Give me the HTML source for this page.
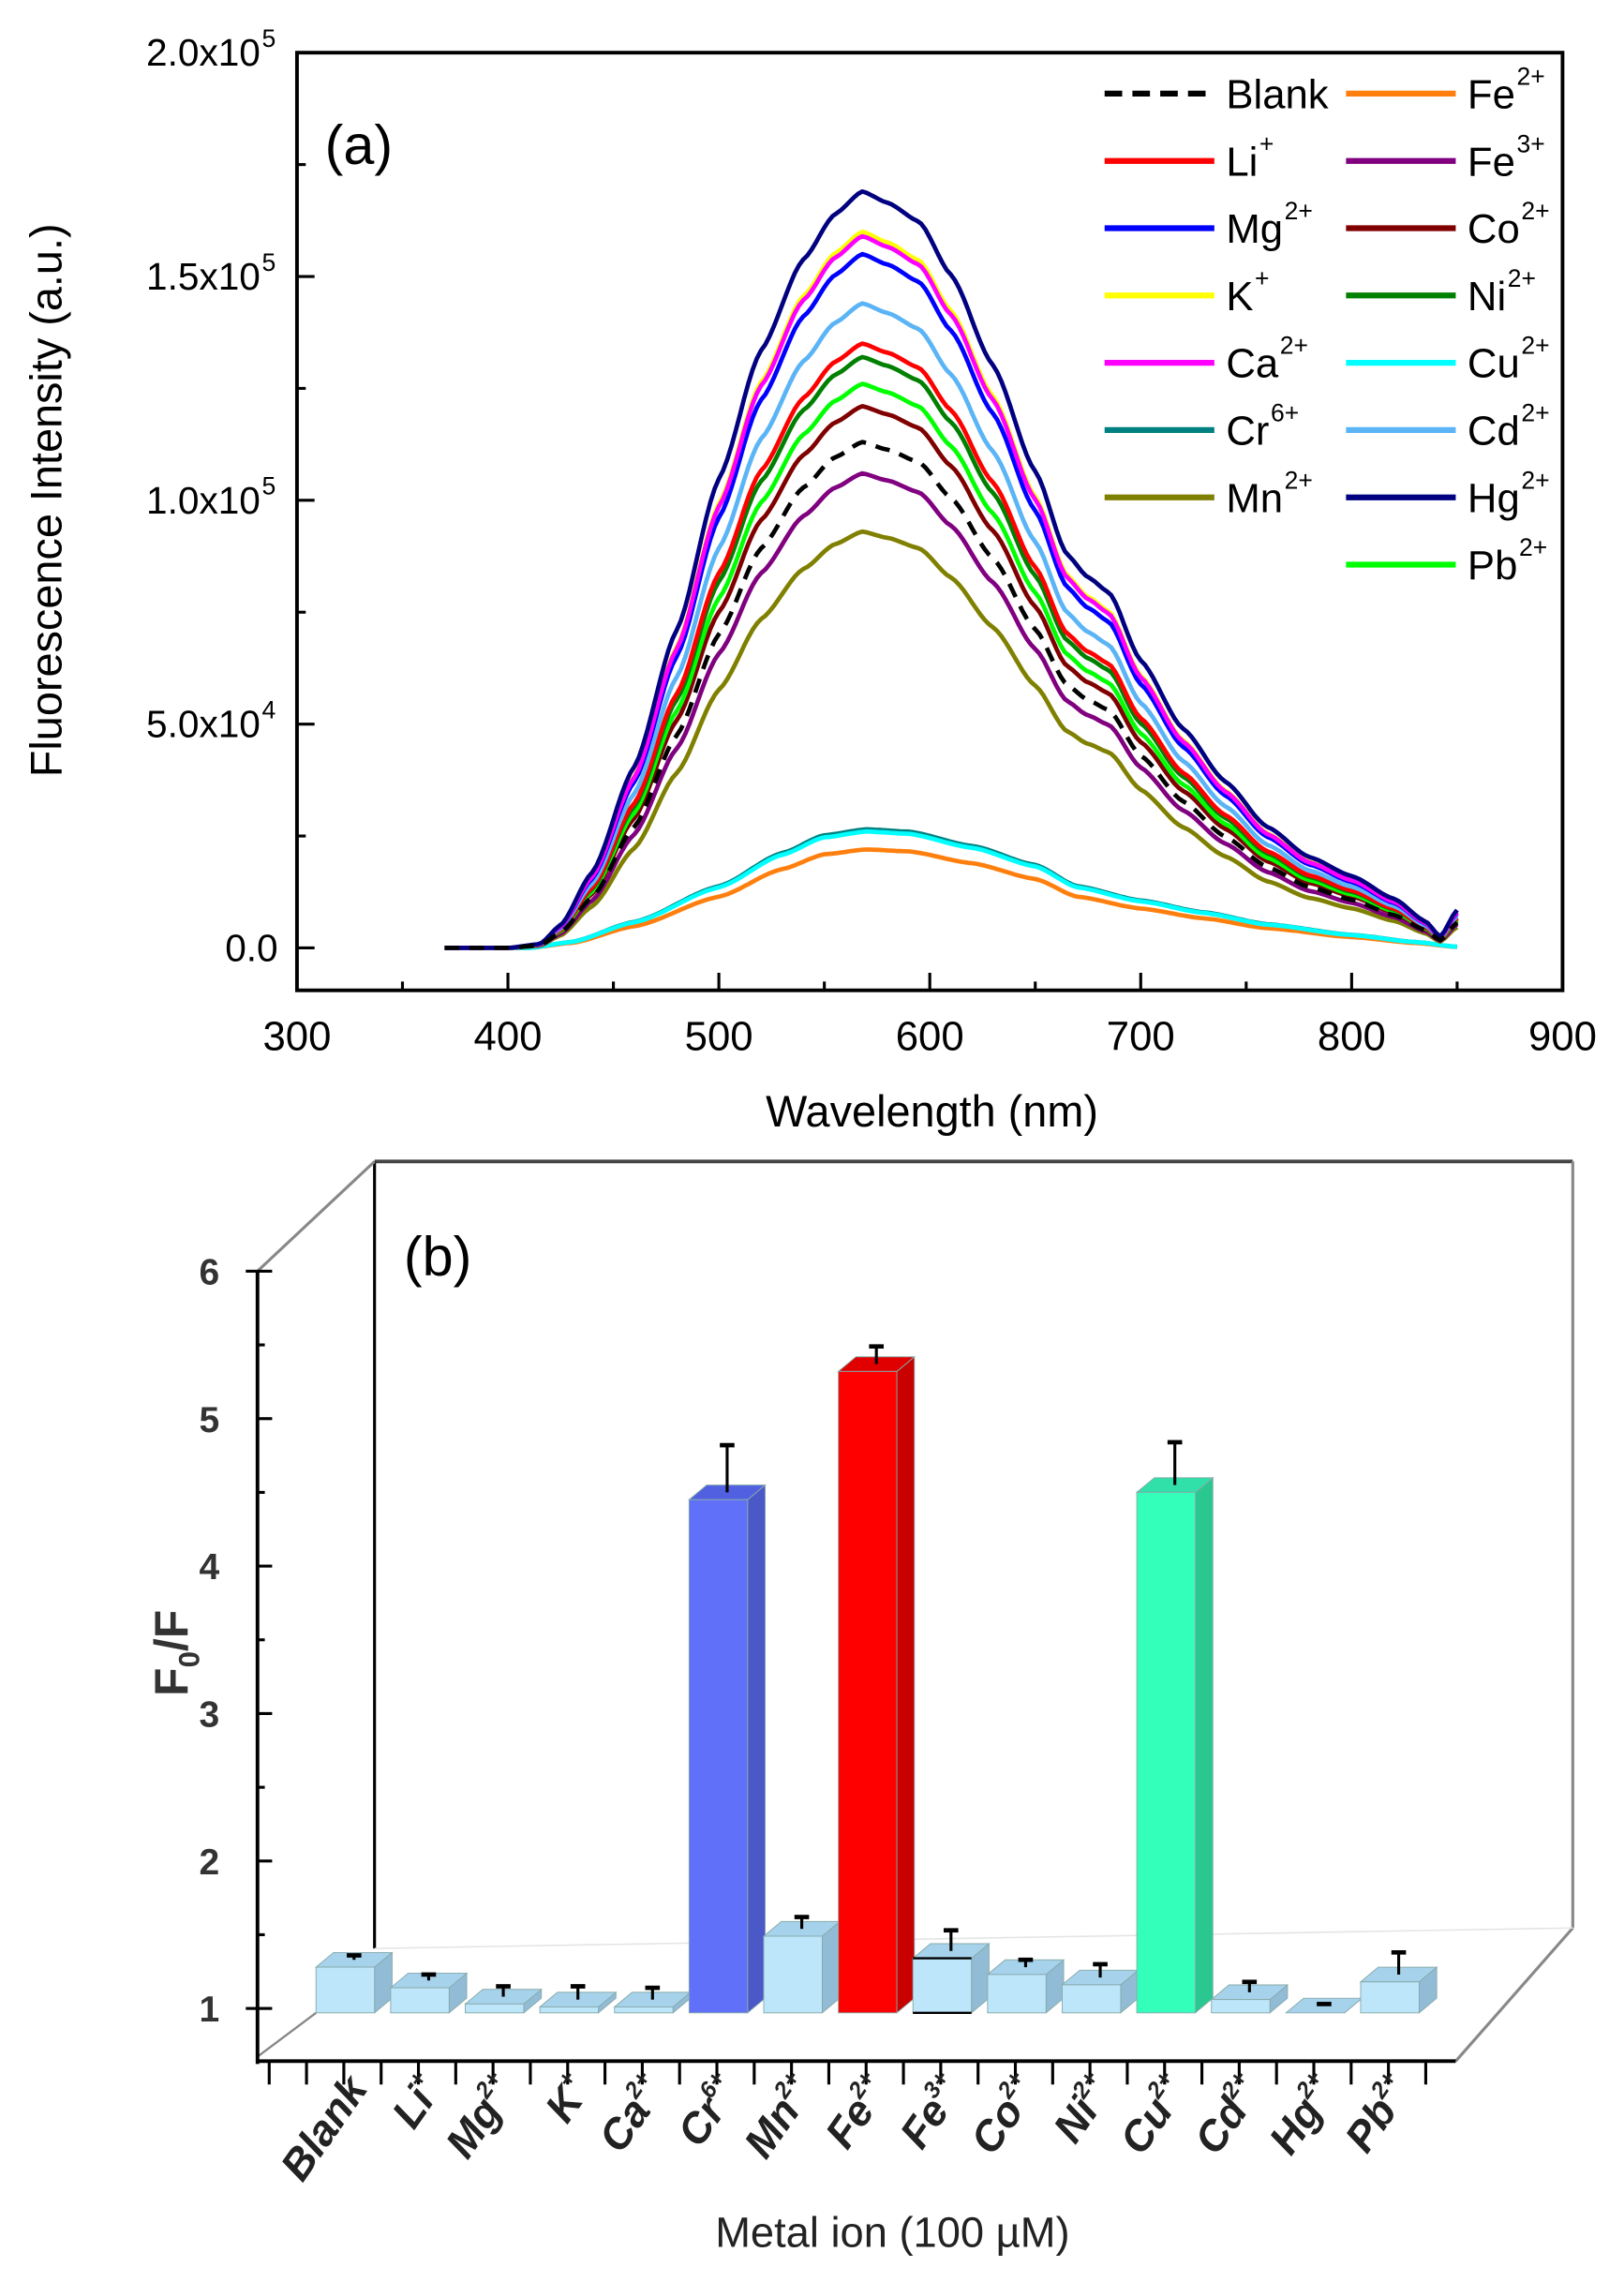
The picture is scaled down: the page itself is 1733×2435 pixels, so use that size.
<!DOCTYPE html>
<html><head><meta charset="utf-8">
<style>
html,body{margin:0;padding:0;background:#fff;}
svg{display:block;}
text{font-family:"Liberation Sans",Arial,sans-serif;}
</style></head>
<body>
<svg id="s" width="1733" height="2435" viewBox="0 0 1110 1560" preserveAspectRatio="none" xmlns="http://www.w3.org/2000/svg">
<rect width="1110" height="1560" fill="#fff"/>
<g id="a"></g>
<g id="b"></g>
</svg>
<script>
const NS="http://www.w3.org/2000/svg";
function el(p,t,at,txt){const e=document.createElementNS(NS,t);for(const k in at)e.setAttribute(k,at[k]);if(txt!==undefined)e.textContent=txt;p.appendChild(e);return e;}
const A=document.getElementById('a'),B=document.getElementById('b');
// ---- Panel a
const X=nm=>203+(nm-300)*1.4417, Y=v=>648-v/5e4*153;
const hi=[[370,0],[400,0],[415,0.005],[425,0.03],[440,0.1],[460,0.24],[480,0.42],[500,0.62],[520,0.79],[540,0.91],[555,0.97],[568,1],[580,0.985],[595,0.96],[610,0.89],[630,0.77],[650,0.63],[665,0.52],[675,0.49],[685,0.47],[700,0.38],[720,0.29],[740,0.22],[760,0.16],[780,0.12],[800,0.095],[820,0.065],[835,0.035],[842,0.015],[850,0.05]];
const lo=[[370,0],[410,0],[430,0.05],[460,0.22],[500,0.52],[530,0.8],[550,0.95],[570,1],[590,0.98],[620,0.86],[650,0.7],[670,0.52],[700,0.4],[730,0.3],[760,0.2],[800,0.11],[830,0.05],[850,0.01]];
function interp(sh,nm){for(let i=1;i<sh.length;i++){if(nm<=sh[i][0]){const a=sh[i-1],b=sh[i];const t=(nm-a[0])/(b[0]-a[0]);const s=t*t*(3-2*t);return a[1]+(b[1]-a[1])*(0.5*t+0.5*s);}}return sh[sh.length-1][1];}
function curve(sh,peak,col,dash){let d="";for(let nm=370;nm<=850;nm+=2){const v=interp(sh,nm)*peak;d+=(nm==370?"M":"L")+X(nm).toFixed(1)+","+Y(v).toFixed(1);}
const at={d:d,fill:"none",stroke:col,"stroke-width":3,"stroke-linejoin":"round"};if(dash)at["stroke-dasharray"]="10,7";el(A,"path",at);}
curve(lo,2.2e4,"#ff7f0e");curve(lo,2.65e4,"#008080");curve(lo,2.6e4,"#00ffff");
[[0.93e5,"#808000"],[1.06e5,"#800080"],[1.21e5,"#800000"],[1.26e5,"#00ff00"],[1.32e5,"#008000"],[1.35e5,"#ff0000"],[1.44e5,"#5ab4f5"],[1.55e5,"#0000ff"],[1.60e5,"#ffff00"],[1.59e5,"#ff00ff"],[1.69e5,"#000080"]].forEach(c=>curve(hi,c[0],c[1]));
curve(hi,1.13e5,"#000",true);
el(A,"rect",{x:203,y:36,width:865,height:641,fill:"none",stroke:"#000","stroke-width":2.5});
for(let nm=300;nm<=900;nm+=50){const x=X(nm);el(A,"line",{x1:x,x2:x,y1:677,y2:nm%100?671:665,stroke:"#000","stroke-width":2});
if(nm%100==0)el(A,"text",{x:x,y:718,"text-anchor":"middle","font-size":28},nm);}
for(let v=0;v<=2e5;v+=2.5e4){const y=Y(v);el(A,"line",{x1:203,x2:v%5e4?209:215,y1:y,y2:y,stroke:"#000","stroke-width":2});}
[["0.0",0,""],["5.0x10",5e4,"4"],["1.0x10",1e5,"5"],["1.5x10",1.5e5,"5"],["2.0x10",2e5,"5"]].forEach(l=>{const t=el(A,"text",{x:l[2]?178:190,y:Y(l[1])+9,"text-anchor":"end","font-size":26},l[0]);if(l[2])el(A,"text",{x:179,y:Y(l[1])-4,"font-size":17},l[2]);});
el(A,"text",{x:637,y:770,"text-anchor":"middle","font-size":30},"Wavelength (nm)");
el(A,"text",{x:0,y:0,"text-anchor":"middle","font-size":30,transform:"translate(42,342) rotate(-90)"},"Fluorescence Intensity (a.u.)");
el(A,"text",{x:222,y:112,"font-size":38},"(a)");
const L1=[["Blank","","#000",1],["Li","+","#ff0000"],["Mg","2+","#0000ff"],["K","+","#ffff00"],["Ca","2+","#ff00ff"],["Cr","6+","#008080"],["Mn","2+","#808000"]];
const L2=[["Fe","2+","#ff7f0e"],["Fe","3+","#800080"],["Co","2+","#800000"],["Ni","2+","#008000"],["Cu","2+","#00ffff"],["Cd","2+","#5ab4f5"],["Hg","2+","#000080"],["Pb","2+","#00ff00"]];
function leg(L,x0,tx){L.forEach((l,i)=>{const y=64+46*i;const at={x1:x0,x2:x0+75,y1:y,y2:y,stroke:l[2],"stroke-width":4};if(l[3])at["stroke-dasharray"]="12,7";el(A,"line",at);
const t=el(A,"text",{x:tx,y:y+10,"font-size":28},l[0]);const w=t.getComputedTextLength();if(l[1])el(A,"text",{x:tx+w+1,y:y-6,"font-size":17},l[1]);});}
leg(L1,755,838);leg(L2,920,1003);
// ---- Panel b
const YB=v=>1373-(v-1)*100.8;
const BOT=1409, FB=1376;
el(B,"line",{x1:256,y1:794,x2:1075,y2:794,stroke:"#444","stroke-width":2.5});
el(B,"line",{x1:256,y1:794,x2:256,y2:1332,stroke:"#000","stroke-width":2});
el(B,"line",{x1:1075,y1:794,x2:1075,y2:1318,stroke:"#888","stroke-width":2});
el(B,"line",{x1:176,y1:869,x2:256,y2:794,stroke:"#888","stroke-width":2});
el(B,"line",{x1:995,y1:BOT,x2:1075,y2:1318,stroke:"#888","stroke-width":2});
el(B,"line",{x1:176,y1:1406,x2:216,y2:FB,stroke:"#888","stroke-width":1.5});
el(B,"line",{x1:256,y1:1332,x2:1075,y2:1318,stroke:"#e4e4e4","stroke-width":1});
el(B,"line",{x1:176,y1:869,x2:176,y2:BOT+2,stroke:"#000","stroke-width":2.5});
el(B,"line",{x1:175,y1:BOT,x2:995,y2:BOT,stroke:"#000","stroke-width":2.5});
for(let v=1;v<=6;v+=0.5){const y=YB(v);el(B,"line",{x1:176,x2:v%1?181:186,y1:y,y2:y,stroke:"#000","stroke-width":2});if(v%1==0)el(B,"text",{x:150,y:y+9,"text-anchor":"end","font-size":25,"font-weight":"bold",fill:"#333"},v);}
el(B,"line",{x1:176,x2:168,y1:YB(6),y2:YB(6),stroke:"#000","stroke-width":2});
el(B,"line",{x1:176,x2:168,y1:YB(1),y2:YB(1),stroke:"#000","stroke-width":2});
for(let x=184;x<=995;x+=25.5){el(B,"line",{x1:x,x2:x,y1:BOT,y2:BOT+16,stroke:"#000","stroke-width":2});}
const bars=[["Blank","",1.31,1.36],["Li","+",1.17,1.23],["Mg","2+",1.06,1.15],["K","+",1.04,1.15],["Ca","2+",1.04,1.14],["Cr","6+",4.48,4.82,"#6070f8","#4a58c8","#5060e0"],["Mn","2+",1.52,1.62],["Fe","2+",5.35,5.49,"#ff0000","#c80000","#e00000"],["Fe","3+",1.37,1.53],["Co","2+",1.26,1.33],["Ni","2+",1.19,1.3],["Cu","2+",4.53,4.84,"#33ffbb","#2ac890","#30e0a8"],["Cd","2+",1.09,1.18],["Hg","2+",1.0,1.03],["Pb","2+",1.21,1.38]];
bars.forEach((b,i)=>{const c=236+51*i,x0=c-20,x1=c+20,yt=YB(b[2])+3,yb=FB,dx=12,dy=10;
const f=b[4]||"#bde6fb",s=b[5]||"#92bcd6",t=b[6]||"#a6d2ec";
el(B,"polygon",{points:`${x1},${yt} ${x1+dx},${yt-dy} ${x1+dx},${yb-dy} ${x1},${yb}`,fill:s,stroke:"#8aa","stroke-width":0.6});
el(B,"polygon",{points:`${x0},${yt} ${x0+dx},${yt-dy} ${x1+dx},${yt-dy} ${x1},${yt}`,fill:t,stroke:"#8aa","stroke-width":0.6});
el(B,"rect",{x:x0,y:yt,width:40,height:yb-yt,fill:f,stroke:"#8aa","stroke-width":0.6});
if(i==8){el(B,"line",{x1:x0,x2:x1,y1:yt,y2:yt,stroke:"#000","stroke-width":1.5});el(B,"line",{x1:x0,x2:x1,y1:yb,y2:yb,stroke:"#000","stroke-width":1.5});}
const ex=c+6,ey=yt-5,ee=YB(b[3]);el(B,"line",{x1:ex,x2:ex,y1:ey,y2:ee,stroke:"#000","stroke-width":2});el(B,"line",{x1:ex-5,x2:ex+5,y1:ee,y2:ee,stroke:"#000","stroke-width":3});
const g=el(B,"g",{transform:`translate(${c+16},1428) rotate(-55)`,fill:"#222"});
const tt=el(g,"text",{x:0,y:0,"text-anchor":"end","font-size":29,"font-style":"italic","font-weight":"bold"});
tt.textContent=b[0];if(b[1]){el(tt,"tspan",{"font-size":16,dy:-13},b[1]);}
});
el(B,"text",{x:610,y:1536,"text-anchor":"middle","font-size":29,fill:"#222"},"Metal ion (100  µM)");
const fl=el(B,"text",{x:0,y:0,"text-anchor":"middle","font-size":32,"font-weight":"bold",fill:"#333",transform:"translate(128,1130) rotate(-90)"},"F");
el(fl,"tspan",{"font-size":20,dy:8},"0");el(fl,"tspan",{dy:-8},"/F");
el(B,"text",{x:276,y:872,"font-size":38},"(b)");
</script>
</body></html>
